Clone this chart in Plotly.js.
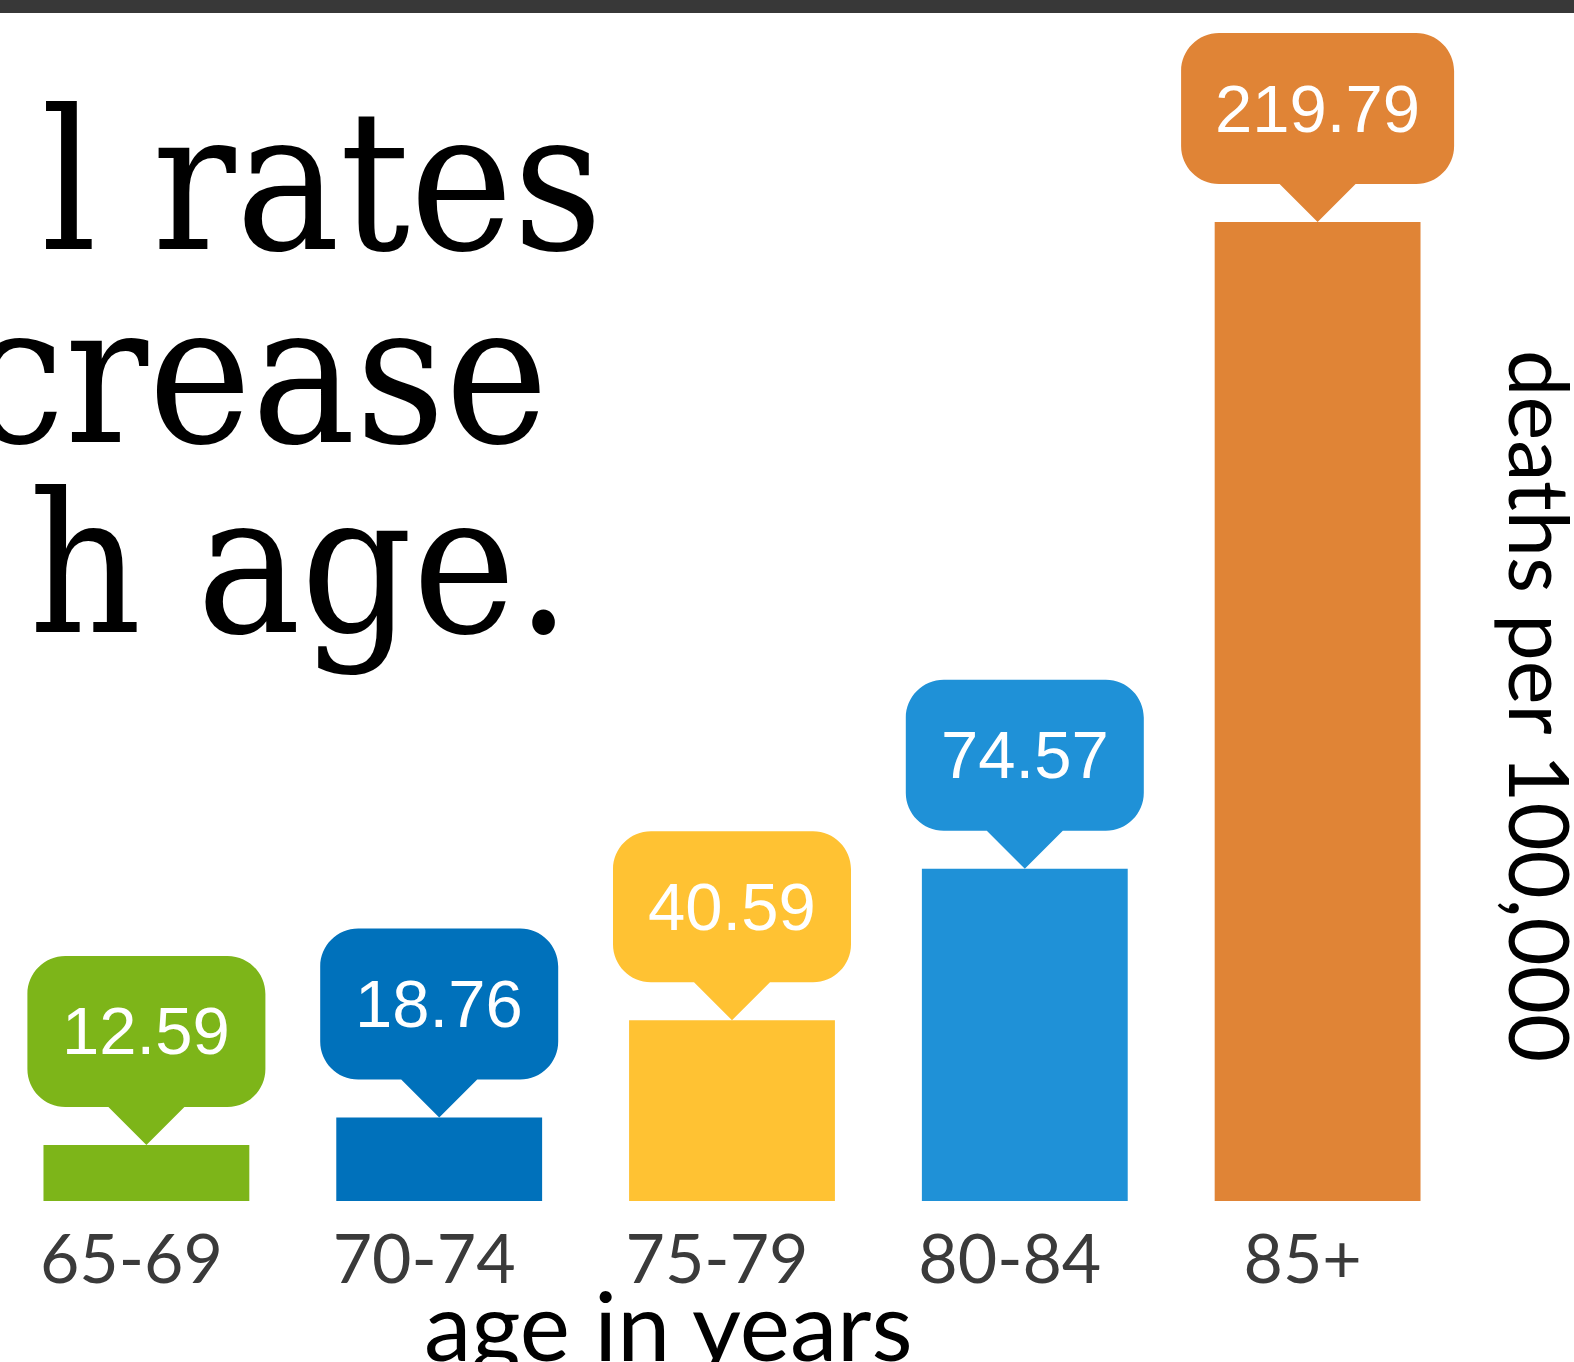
<!DOCTYPE html>
<html>
<head>
<meta charset="utf-8">
<script src="https://cdn.plot.ly/plotly-3.0.1.min.js"></script>
<style>
  html, body { margin: 0; padding: 0; background: #ffffff; }
  #chart { width: 1574px; height: 1362px; }
</style>
</head>
<body>
<div id="chart"></div>
<script>
// ---- data ----
const categories = ['65-69', '70-74', '75-79', '80-84', '85+'];
const rates = [12.59, 18.76, 40.59, 74.57, 219.79];
const rateLabels = ['12.59', '18.76', '40.59', '74.57', '219.79'];
const barColors = ['#7db519', '#0071bb', '#ffc233', '#1f91d7', '#e08436'];
const titleLines = ['l rates', 'crease', 'h age.'];
const xAxisTitle = 'age in years';
const yAxisTitle = 'deaths per 100,000';

// ---- layout geometry ----
const W = 1574, H = 1362;
const M = { l: 0, r: 110, t: 0, b: 161 };
const plotW = W - M.l - M.r;
const plotH = H - M.t - M.b;
const px2paperX = px => (px - M.l) / plotW;
const px2paperY = py => (H - M.b - py) / plotH;

// callout bubble path (pixel offsets from the bar top, y up)
function bubblePath(label) {
  const w = 63 + 35 * label.length;
  const hw = w / 2, tip = 38, top = 189, r = 38, k = 0.5523 * r;
  return [
    `M -${tip},${tip} L 0,0 L ${tip},${tip}`,
    `L ${hw - r},${tip}`,
    `C ${hw - r + k},${tip} ${hw},${tip + r - k} ${hw},${tip + r}`,
    `L ${hw},${top - r}`,
    `C ${hw},${top - r + k} ${hw - r + k},${top} ${hw - r},${top}`,
    `L ${-hw + r},${top}`,
    `C ${-hw + r - k},${top} ${-hw},${top - r + k} ${-hw},${top - r}`,
    `L ${-hw},${tip + r}`,
    `C ${-hw},${tip + r - k} ${-hw + r - k},${tip} ${-hw + r},${tip}`,
    'Z'
  ].join(' ');
}

const shapes = [];
const annotations = [];

// dark strip across the top
shapes.push({
  type: 'rect', xref: 'paper', yref: 'paper',
  x0: -0.05, x1: 1.2,
  ysizemode: 'pixel', yanchor: 1, y0: 0, y1: -13,
  fillcolor: '#383838', line: { width: 0 }, layer: 'above'
});

categories.forEach((c, i) => {
  shapes.push({
    type: 'path', xref: 'x', yref: 'y',
    xsizemode: 'pixel', ysizemode: 'pixel',
    xanchor: c, yanchor: rates[i],
    path: bubblePath(rateLabels[i]),
    fillcolor: barColors[i], line: { width: 0 }, layer: 'above'
  });
  annotations.push({
    x: c, y: rates[i], xref: 'x', yref: 'y',
    yshift: 114, xanchor: 'center', yanchor: 'middle',
    text: rateLabels[i], showarrow: false,
    font: { family: 'Liberation Sans, Arial, sans-serif', size: 67, color: '#ffffff' }
  });
});

// headline (cropped at the left edge)
const titleFont = { family: '"DejaVu Serif Condensed", "DejaVu Serif", serif', size: 194, color: '#000000' };
const titleRight = [605, 550, 573];
const titleBase = [240, 433, 623];
titleLines.forEach((t, i) => {
  annotations.push({
    xref: 'paper', yref: 'paper',
    x: px2paperX(titleRight[i]), y: px2paperY(titleBase[i] - 0.3 * titleFont.size),
    xanchor: 'right', yanchor: 'middle',
    text: t, showarrow: false, font: titleFont
  });
});

// axis titles
const axisFont = { family: 'Lato, "Noto Sans", sans-serif', size: 95, color: '#000000' };
annotations.push({
  xref: 'paper', yref: 'paper',
  x: px2paperX(668), y: px2paperY(1352 - 0.3 * axisFont.size),
  xanchor: 'center', yanchor: 'middle',
  text: xAxisTitle, showarrow: false, font: axisFont
});
annotations.push({
  xref: 'paper', yref: 'paper',
  x: px2paperX(1541), y: px2paperY(706),
  xanchor: 'center', yanchor: 'middle', textangle: 90,
  text: yAxisTitle, showarrow: false,
  font: { family: 'Lato, "Noto Sans", sans-serif', size: 83, color: '#000000' }
});

const trace = {
  type: 'bar',
  x: categories,
  y: rates,
  marker: { color: barColors, line: { width: 0 } },
  hoverinfo: 'x+y',
  cliponaxis: false
};

const layout = {
  width: W, height: H,
  margin: M,
  paper_bgcolor: '#ffffff',
  plot_bgcolor: '#ffffff',
  showlegend: false,
  bargap: 0.297,
  xaxis: {
    type: 'category',
    range: [-0.5, 4.5],
    showgrid: false, zeroline: false, showline: false,
    ticks: '', ticklabelstandoff: 13, ticklabelshift: -15,
    tickfont: { family: 'Lato, "Noto Sans", sans-serif', size: 68, color: '#3a3a3a' },
    fixedrange: true
  },
  yaxis: {
    range: [0, plotH / 4.454],
    showgrid: false, zeroline: false, showline: false,
    showticklabels: false, ticks: '',
    fixedrange: true
  },
  shapes: shapes,
  annotations: annotations
};

Plotly.newPlot('chart', [trace], layout, { displayModeBar: false, staticPlot: true });
</script>
</body>
</html>
